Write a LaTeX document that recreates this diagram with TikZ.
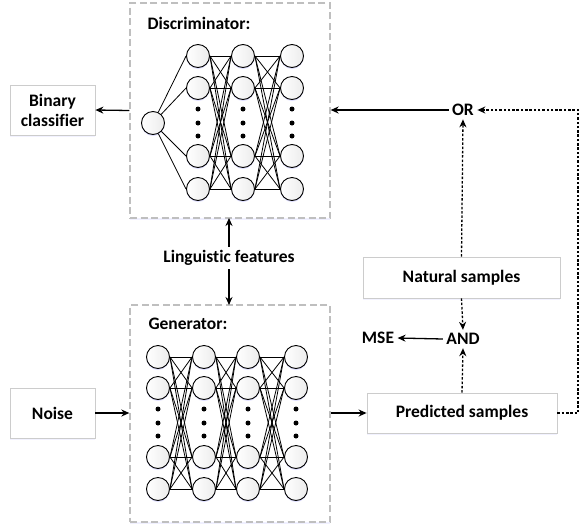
\documentclass[tikz,border=0pt]{standalone}
\usepackage{fontspec}
\setmainfont{Carlito}[Ligatures={NoCommon}]
\usetikzlibrary{shadows,arrows.meta}

\begin{document}
\begin{tikzpicture}[
        x=1pt, y=-1pt,
        neuron/.style={circle, draw=black, line width=0.9pt, left color=white, right color=gray!15, minimum size=23pt, inner sep=0pt, drop shadow={shadow xshift=0pt, shadow yshift=-1.5pt, fill=blue!40, opacity=0.3}},
        netbox/.style={draw=gray!50, dash pattern=on 7pt off 3.5pt, line width=1.3pt, minimum width=200pt, drop shadow={shadow xshift=0pt, shadow yshift=-1.5pt, fill=blue!30, opacity=0.2}, fill=white},
        tbox/.style={draw=gray!40, line width=0.8pt, fill=white, font=\bfseries\fontsize{17.5}{20}\selectfont, align=center, drop shadow={shadow xshift=0pt, shadow yshift=-1.5pt, fill=blue!20, opacity=0.25}},
        txt/.style={font=\bfseries\fontsize{17.5}{20}\selectfont},
        wire/.style={line width=0.8pt},
        arrow/.style={->, >={Stealth[length=8pt,width=7pt]}, line width=1.3pt},
        dotarrow/.style={->, >={Stealth[length=8pt,width=7pt]}, line width=1.3pt, dash pattern=on 2.5pt off 1.8pt}
    ]
    \useasboundingbox (0,0) rectangle (579,531);

    % Discriminator
    \node[netbox, minimum height=215pt] (disc) at (230,110.5) {};
    \node[txt, anchor=west] (disctitle) at (144,23) {Discriminator:};
    \node[neuron] (d0) at (153,123) {};
    \foreach \l/\x in {1/198,2/243,3/292}
        \foreach \r/\y in {1/56,2/88,4/156,5/189}
            \node[neuron] (d\l-\r) at (\x,\y) {};
    \foreach \x in {198,243,292}
        \foreach \y in {109,123,136}
            \fill (\x,\y) circle (2.5pt);
    \foreach \r in {1,2,4,5}
        \draw[wire] (d0) -- (d1-\r.west);
    \foreach \a/\b in {1/2,2/3}
        \foreach \r in {1,2,4,5}
            \foreach \s in {1,2,4,5}
                \draw[wire] (d\a-\r.east) -- (d\b-\s.west);

    % Generator
    \node[netbox, minimum height=217pt] (gen) at (230,413.5) {};
    \node[txt, anchor=west] (gentitle) at (145,324) {Generator:};
    \foreach \l/\x in {1/158,2/204,3/248,4/296}
        \foreach \r/\y in {1/357,2/388,4/457,5/489}
            \node[neuron] (g\l-\r) at (\x,\y) {};
    \foreach \x in {158,204,248,296}
        \foreach \y in {409,423,436}
            \fill (\x,\y) circle (2.5pt);
    \foreach \a/\b in {1/2,2/3,3/4}
        \foreach \r in {1,2,4,5}
            \foreach \s in {1,2,4,5}
                \draw[wire] (g\a-\r.east) -- (g\b-\s.west);

    % Inputs and outputs
    \node[tbox, minimum width=85pt, minimum height=50pt] (bin) at (52.5,110) {Binary\\classifier};
    \node[tbox, minimum width=85pt, minimum height=50pt] (noise) at (52.5,413) {Noise};
    \node[txt] (ling) at (229,258) {Linguistic features};
    \node[tbox, minimum width=197pt, minimum height=41pt] (nat) at (461.5,277.5) {Natural samples};
    \node[tbox, minimum width=190pt, minimum height=40pt] (pred) at (462,413) {Predicted samples};
    \node[txt] (or) at (463,110) {OR};
    \node[txt] (and) at (463,339) {AND};
    \node[txt] (mse) at (378,338) {MSE};
    \coordinate (rc) at (578,413);

    \draw[arrow] (disc.west) -- (bin.east);
    \draw[arrow] (noise.east) -- (noise.east -| gen.west);
    \draw[arrow] (ling.north -| 229,0) -- (229,218);
    \draw[arrow] (ling.south -| 229,0) -- (229,305);
    \draw[arrow] (gen.east |- pred.west) -- (pred.west);
    \draw[arrow] (or.west) -- (or.west -| disc.east);
    \draw[arrow] (and.west) -- (mse.east);
    \draw[dotarrow] (pred.east) -- (rc) |- (or.east);
    \draw[dotarrow] (nat.north) -- (or.south);
    \draw[dotarrow] (nat.south) -- (and.north);
    \draw[dotarrow] (pred.north) -- (and.south);

\end{tikzpicture}
\end{document}
